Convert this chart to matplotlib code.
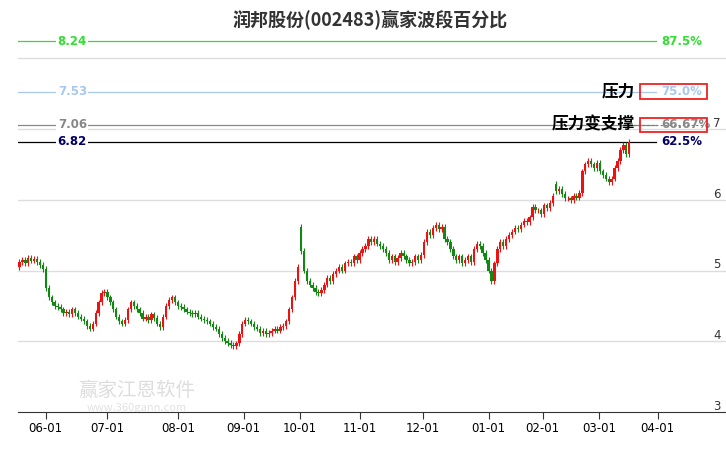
import matplotlib
matplotlib.use("Agg")
import matplotlib.pyplot as plt
from matplotlib.patches import Rectangle

plt.rcParams['font.family'] = ['Noto Sans CJK SC', 'DejaVu Sans']

closes = [5.12,5.15,5.10,5.18,5.14,5.16,5.12,5.08,5.02,
          4.75,4.62,4.55,4.50,
          4.48,4.45,4.40,4.42,4.38,4.45,4.40,4.35,4.32,4.28,4.22,4.18,
          4.25,4.40,4.55,4.68,4.70,
          4.62,4.55,4.45,4.35,4.28,4.25,4.30,
          4.45,4.55,4.50,4.45,4.40,4.32,4.35,4.30,4.38,4.33,4.25,4.20,
          4.35,4.50,4.58,4.62,4.55,4.50,4.48,
          4.45,4.42,4.40,4.38,4.40,4.35,4.32,4.30,4.28,4.25,4.20,4.18,
          4.10,4.05,4.00,3.98,3.95,3.93,3.97,
          4.10,4.25,4.30,4.28,4.25,
          4.20,4.18,4.12,4.15,4.10,4.12,4.15,4.18,4.15,4.20,4.22,4.28,
          4.45,4.62,4.85,5.05,5.28,
          5.00,4.85,4.80,4.75,4.70,4.68,4.72,
          4.80,4.90,4.85,4.95,5.00,5.05,5.00,5.10,
          5.12,5.10,5.20,5.15,5.25,5.30,5.35,
          5.45,5.40,5.45,5.38,5.35,5.30,5.25,
          5.15,5.20,5.12,5.18,5.25,5.20,5.15,5.10,5.12,5.20,5.15,5.22,
          5.40,5.55,5.50,5.60,5.65,5.58,5.62,
          5.45,5.40,5.30,5.20,5.15,5.20,5.10,5.15,5.20,5.12,
          5.30,5.38,5.35,5.25,5.15,5.00,4.85,
          5.10,5.30,5.40,5.35,5.45,5.50,5.55,5.60,5.58,5.65,
          5.70,5.68,5.75,5.90,5.85,
          5.85,5.80,5.92,5.88,5.95,
          6.05,6.12,6.15,6.08,6.02,
          6.02,6.00,6.05,6.03,6.10,
          6.40,6.50,6.55,6.50,6.45,6.52,6.40,
          6.35,6.30,6.25,6.30,
          6.45,6.55,6.70,6.78,6.65,6.82]
gap_opens = {0: 5.05, 96: 5.62, 183: 6.22}

tick_pos = [8.9, 30, 54, 76.5, 95.6, 116, 137.5, 160, 178.5, 197.6, 217.7]
tick_labels = ["06-01","07-01","08-01","09-01","10-01","11-01","12-01","01-01","02-01","03-01","04-01"]

levels = [8.24, 7.53, 7.06, 6.82]
level_pcts = ["87.5%", "75.0%", "66.67%", "62.5%"]
level_colors = ["#33dd33", "#a8c8ee", "#888888", "#000066"]
line_colors = ["#33dd33", "#a8c8ee", "#888888", "#000000"]
right_ticks = [3, 4, 5, 6, 7]

fig = plt.figure(figsize=(7.26, 4.5), dpi=100)
ax = fig.add_axes([18/726, 38/450, 708/726, 382/450])
ax.set_xlim(-0.5, 241)
ax.set_ylim(3, 8.4)

for y in [4, 5, 6, 7, 8]:
    ax.axhline(y, color="#dddddd", lw=1, zorder=0)

prev = closes[0]
for i, c in enumerate(closes):
    o = gap_opens.get(i, prev)
    hi = max(o, c) + 0.04
    lo = min(o, c) - 0.04
    col = "#ee1111" if c >= o else "#118811"
    ax.vlines(i, lo, hi, color=col, lw=0.8, zorder=2)
    h = max(abs(c - o), 0.012)
    ax.add_patch(Rectangle((i - 0.4, min(o, c)), 0.8, h, color=col, zorder=3, lw=0))
    prev = c

xend = 217
for lv, pct, tc, lc in zip(levels, level_pcts, level_colors, line_colors):
    ax.plot([-0.5, xend], [lv, lv], color=lc, lw=0.9, zorder=1)
    ax.text(23, lv, f"{lv:.2f}", color=tc, fontsize=8.5, fontweight="bold",
            ha="right", va="center", family="DejaVu Sans", zorder=5,
            bbox=dict(fc="white", ec="none", pad=1))
    ax.text(219, lv, pct, color=tc, fontsize=8.5, fontweight="bold", ha="left", va="center",
            family="DejaVu Sans")
ax.plot([208, 233], [7.06, 7.06], color="#33aa33", lw=0.8, ls=(0, (2, 2)), zorder=1)

for lv in [7.53, 7.06]:
    ax.add_patch(Rectangle((211.5, lv - 0.1), 23, 0.2, fill=False, ec="#ee2222", lw=1.3, zorder=4))
ax.text(210, 7.53, "压力", fontsize=12, fontweight="bold", ha="right", va="center")
ax.text(210, 7.06, "压力变支撑", fontsize=12, fontweight="bold", ha="right", va="center")

for t in right_ticks:
    ax.text(238, t + 0.08, str(t), fontsize=8.5, color="#333333", ha="center", va="center",
            family="DejaVu Sans")

ax.text(40, 3.3, "赢家江恩软件", fontsize=14, color="#dddddd", ha="center", va="center", zorder=0)
ax.text(40, 3.06, "www.360gann.com", fontsize=8, color="#e2e2e2", ha="center", va="center",
        zorder=0)

ax.set_xticks(tick_pos)
ax.set_xticklabels(tick_labels, fontsize=8.5, family="DejaVu Sans")
ax.tick_params(axis="x", length=5, color="#333333", pad=2)
ax.set_yticks([])
for s in ["top", "right", "left"]:
    ax.spines[s].set_visible(False)
ax.spines["bottom"].set_color("#333333")

fig.text(0.51, 0.955, "润邦股份(002483)赢家波段百分比", fontsize=13, fontweight="bold",
         ha="center", va="center", color="#333333")
fig.savefig("out.png", dpi=100)
